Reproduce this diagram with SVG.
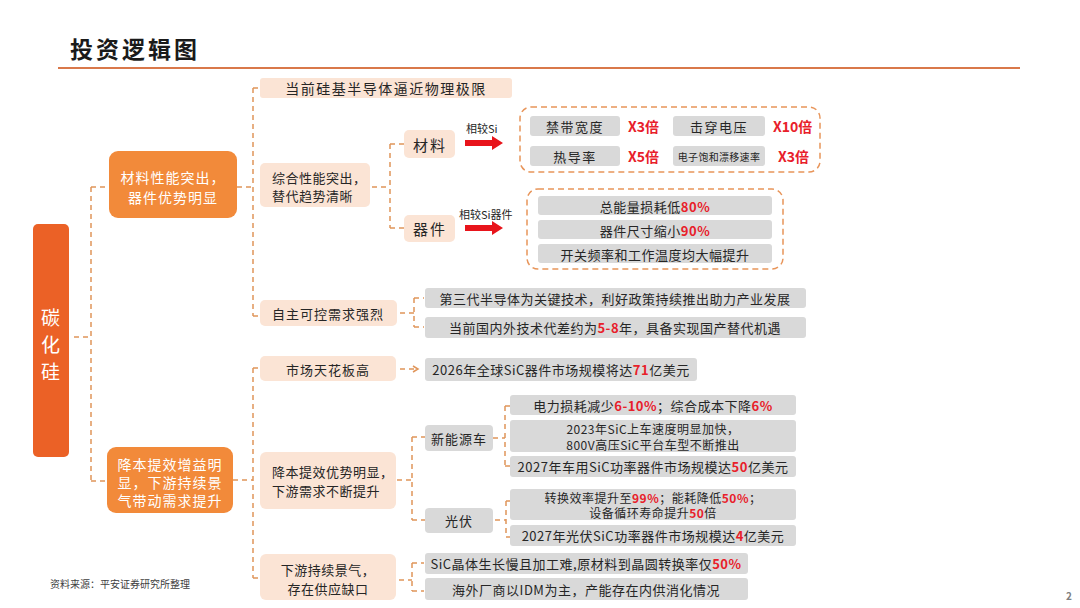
<svg xmlns="http://www.w3.org/2000/svg" width="1080" height="608" viewBox="0 0 1080 608">
<style>
text{font-family:"Noto Sans CJK SC","Noto Sans",sans-serif;fill:#262626}
.t{font-size:13px;text-anchor:middle;dominant-baseline:central;letter-spacing:0.5px}
.tl{font-size:13px;dominant-baseline:central;letter-spacing:0.5px}
.t2{font-size:12px;text-anchor:middle;dominant-baseline:central;letter-spacing:0.5px}
.w{fill:#ffffff;font-size:14px;text-anchor:middle;dominant-baseline:central;letter-spacing:1px}
.r{fill:#E8202A;font-weight:bold}
.pk{fill:#FBE4D5}
.gy{fill:#D9D9D9}
.or{fill:#F28A3A}
.cn{fill:none;stroke:#E0955A;stroke-width:1.5;stroke-dasharray:5 4}
.db{fill:none;stroke:#E8955A;stroke-width:1.5;stroke-dasharray:6 4}
.ar{fill:#E8141B}
</style>
<defs>
<marker id="oa" markerWidth="8" markerHeight="8" refX="6" refY="4" orient="auto" markerUnits="userSpaceOnUse">
<path d="M1,1 L6,4 L1,7" fill="none" stroke="#E0955A" stroke-width="1.5"/>
</marker>
</defs>
<rect width="1080" height="608" fill="#ffffff"/>
<g id="title">
<text x="70" y="48" style="font-size:23px;font-weight:bold;dominant-baseline:central;fill:#1a1a1a;letter-spacing:3px">投资逻辑图</text>
<line x1="58" y1="68" x2="1020" y2="68" stroke="#D9784A" stroke-width="2"/>
</g>
<g id="connectors">
<path class="cn" d="M74,337 H91 M91,187 V481 M91,187 H107 M91,481 H107"/>
<path class="cn" d="M237,187 H253 M253,88 V316 M253,88 H260 M253,316 H260"/>
<path class="cn" d="M233,480 H253 M253,368 V578 M253,368 H260 M253,578 H260"/>
<path class="cn" d="M372,187 H390 M390,144 V228 M390,144 H404 M390,228 H404"/>
<path class="cn" d="M400,313 H414 M414,298 V327 M414,298 H424 M414,327 H424"/>
<path class="cn" d="M400,369 H418" marker-end="url(#oa)"/>
<path class="cn" d="M397,480 H412 M412,437 V520 M412,437 H425 M412,520 H425"/>
<path class="cn" d="M493,438 H505 M505,406 V466 M505,406 H510 M505,466 H510"/>
<path class="cn" d="M495,520 H506 M506,501 V537 M506,501 H510 M506,537 H510"/>
<path class="cn" d="M399,580 H412 M412,563 V591 M412,563 H424 M412,591 H424"/>
</g>
<g id="n-sic">
<rect x="33" y="224" width="36" height="233" rx="5" fill="#EB6126"/>
<text class="w" x="51" y="316" style="font-size:19px">碳</text>
<text class="w" x="51" y="343" style="font-size:19px">化</text>
<text class="w" x="51" y="370" style="font-size:19px">硅</text>
</g>
<g id="n-material">
<rect class="or" x="109" y="151" width="128" height="67" rx="9"/>
<text class="w" x="173" y="177">材料性能突出，</text>
<text class="w" x="173" y="197">器件优势明显</text>
</g>
<g id="n-cost">
<rect class="or" x="107" y="447" width="126" height="66" rx="9"/>
<text class="w" x="170" y="464">降本提效增益明</text>
<text class="w" x="170" y="482">显，下游持续景</text>
<text class="w" x="170" y="500">气带动需求提升</text>
</g>
<g id="n-limit">
<rect class="pk" x="260" y="78" width="252" height="20" rx="3"/>
<text class="t" x="386" y="88" style="font-size:14px;letter-spacing:1.5px">当前硅基半导体逼近物理极限</text>
</g>
<g id="n-perf">
<rect class="pk" x="260" y="163" width="110" height="44" rx="5"/>
<text class="tl" x="272" y="177">综合性能突出，</text>
<text class="tl" x="272" y="195">替代趋势清晰</text>
</g>
<g id="n-auto">
<rect class="pk" x="260" y="300" width="137" height="26" rx="5"/>
<text class="t" x="328" y="313" style="letter-spacing:1px">自主可控需求强烈</text>
</g>
<g id="n-cai">
<rect class="pk" x="404" y="130" width="51" height="28" rx="5"/>
<text class="t" x="430" y="144" style="font-size:15px;letter-spacing:2px">材料</text>
</g>
<g id="n-qi">
<rect class="pk" x="404" y="215" width="51" height="27" rx="5"/>
<text class="t" x="430" y="228" style="font-size:15px;letter-spacing:2px">器件</text>
</g>
<g id="arrow-si">
<text x="466" y="128" style="font-size:11px;dominant-baseline:central">相较Si</text>
<path class="ar" d="M465,140 H492 V136 L503,143 L492,150 V146 H465 Z"/>
</g>
<g id="arrow-sidev">
<text x="459" y="214" style="font-size:11px;dominant-baseline:central">相较Si器件</text>
<path class="ar" d="M465,225 H492 V221 L503,228 L492,235 V231 H465 Z"/>
</g>
<g id="g-material">
<rect class="db" x="520" y="107" width="300" height="65" rx="11"/>
<rect class="gy" x="530" y="116" width="90" height="20" rx="3"/>
<text class="t" x="575" y="126" style="letter-spacing:1.5px">禁带宽度</text>
<text x="628" y="126" class="r" style="font-size:14px;dominant-baseline:central">X3倍</text>
<rect class="gy" x="673" y="116" width="92" height="20" rx="3"/>
<text class="t" x="719" y="126" style="letter-spacing:1.5px">击穿电压</text>
<text x="773" y="126" class="r" style="font-size:14px;dominant-baseline:central">X10倍</text>
<rect class="gy" x="530" y="146" width="90" height="20" rx="3"/>
<text class="t" x="575" y="156" style="letter-spacing:1.5px">热导率</text>
<text x="628" y="156" class="r" style="font-size:14px;dominant-baseline:central">X5倍</text>
<rect class="gy" x="673" y="146" width="92" height="20" rx="3"/>
<text class="t" x="719" y="156" style="font-size:10px;letter-spacing:0.3px">电子饱和漂移速率</text>
<text x="778" y="156" class="r" style="font-size:14px;dominant-baseline:central">X3倍</text>
</g>
<g id="g-device">
<rect class="db" x="527" y="189" width="256" height="80" rx="11"/>
<rect class="gy" x="538" y="196" width="234" height="19" rx="3"/>
<text class="t" x="655" y="206">总能量损耗低<tspan class="r">80%</tspan></text>
<rect class="gy" x="538" y="220" width="234" height="19" rx="3"/>
<text class="t" x="655" y="230">器件尺寸缩小<tspan class="r">90%</tspan></text>
<rect class="gy" x="538" y="244" width="234" height="19" rx="3"/>
<text class="t" x="655" y="254">开关频率和工作温度均大幅提升</text>
</g>
<g id="n-policy">
<rect class="gy" x="425" y="288" width="381" height="20" rx="3"/>
<text class="t" x="615" y="298">第三代半导体为关键技术，利好政策持续推出助力产业发展</text>
</g>
<g id="n-gap">
<rect class="gy" x="425" y="317" width="381" height="21" rx="3"/>
<text class="t" x="615" y="327">当前国内外技术代差约为<tspan class="r">5-8</tspan>年，具备实现国产替代机遇</text>
</g>
<g id="n-ceiling">
<rect class="pk" x="260" y="356" width="136" height="25" rx="5"/>
<text class="t" x="328" y="369" style="letter-spacing:1px">市场天花板高</text>
</g>
<g id="n-2026">
<rect class="gy" x="425" y="358" width="272" height="23" rx="3"/>
<text class="t" x="561" y="369">2026年全球SiC器件市场规模将达<tspan class="r">71</tspan>亿美元</text>
</g>
<g id="n-costadv">
<rect class="pk" x="260" y="452" width="136" height="57" rx="6"/>
<text class="tl" x="272" y="471">降本提效优势明显，</text>
<text class="tl" x="272" y="490">下游需求不断提升</text>
</g>
<g id="n-ev">
<rect class="gy" x="425" y="425" width="68" height="26" rx="4"/>
<text class="t" x="459" y="438" style="letter-spacing:1px">新能源车</text>
</g>
<g id="n-pv">
<rect class="gy" x="425" y="508" width="68" height="25" rx="4"/>
<text class="t" x="459" y="520" style="letter-spacing:1px">光伏</text>
</g>
<g id="n-ev1">
<rect class="gy" x="510" y="395" width="286" height="20" rx="3"/>
<text class="t" x="653" y="405">电力损耗减少<tspan class="r">6-10%</tspan>；综合成本下降<tspan class="r">6%</tspan></text>
</g>
<g id="n-ev2">
<rect class="gy" x="510" y="420" width="286" height="32" rx="3"/>
<text class="t2" x="653" y="428">2023年SiC上车速度明显加快，</text>
<text class="t2" x="653" y="444">800V高压SiC平台车型不断推出</text>
</g>
<g id="n-ev3">
<rect class="gy" x="510" y="456" width="286" height="21" rx="3"/>
<text class="t" x="653" y="466">2027年车用SiC功率器件市场规模达<tspan class="r">50</tspan>亿美元</text>
</g>
<g id="n-pv1">
<rect class="gy" x="510" y="489" width="286" height="31" rx="3"/>
<text class="t2" x="653" y="497">转换效率提升至<tspan class="r">99%</tspan>；能耗降低<tspan class="r">50%</tspan>；</text>
<text class="t2" x="653" y="512">设备循环寿命提升<tspan class="r">50</tspan>倍</text>
</g>
<g id="n-pv2">
<rect class="gy" x="510" y="525" width="286" height="21" rx="3"/>
<text class="t" x="653" y="535">2027年光伏SiC功率器件市场规模达<tspan class="r">4</tspan>亿美元</text>
</g>
<g id="n-supply">
<rect class="pk" x="260" y="554" width="136" height="46" rx="6"/>
<text class="t" x="328" y="569">下游持续景气，</text>
<text class="t" x="328" y="588">存在供应缺口</text>
</g>
<g id="n-crystal">
<rect class="gy" x="425" y="553" width="323" height="21" rx="3"/>
<text class="t" x="586" y="563">SiC晶体生长慢且加工难,原材料到晶圆转换率仅<tspan class="r">50%</tspan></text>
</g>
<g id="n-idm">
<rect class="gy" x="425" y="578" width="323" height="22" rx="3"/>
<text class="t" x="586" y="589">海外厂商以IDM为主，产能存在内供消化情况</text>
</g>
<g id="footer">
<text x="50" y="583" style="font-size:10px;dominant-baseline:central;fill:#404040">资料来源：平安证券研究所整理</text>
<text x="1066" y="595" style="font-size:10px;dominant-baseline:central;fill:#808080;font-weight:bold">2</text>
</g>
</svg>
